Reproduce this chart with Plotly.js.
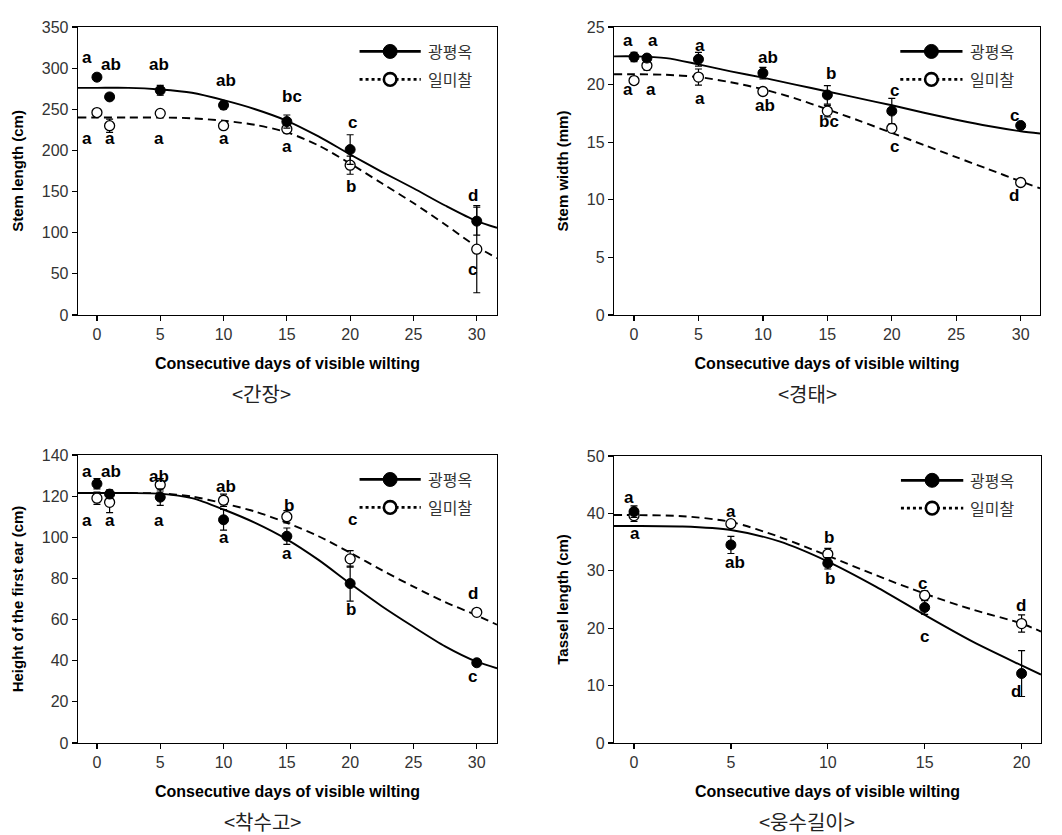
<!DOCTYPE html>
<html>
<head>
<meta charset="utf-8">
<script src="https://cdn.plot.ly/plotly-3.0.1.min.js"></script>
<style>
  html, body { margin: 0; padding: 0; background: #fff; }
  #chart { width: 1062px; height: 835px; }
</style>
</head>
<body>
<div id="chart"></div>
<script>
// ---------------- DATA ----------------
const seriesNames = ['광평옥', '일미찰'];
const xTitle = 'Consecutive days of visible wilting';

// x positions (days)
const days7 = [0, 1, 5, 10, 15, 20, 30];
const days5 = [0, 5, 10, 15, 20];

// Panel 1 : Stem length (cm)  <간장>
const p1Title = 'Stem length (cm)';
const p1Caption = '<간장>';
const p1KPO = [289, 265, 273, 255, 235, 201, 114];
const p1KPOErr = [3, 3, 6, 5, 8, 18, 17];
const p1IMC = [246, 230, 245, 230, 226, 182, 80];
const p1IMCErr = [3, 8, 3, 3, 5, 11, 53];
const p1CurveX = [-1.5, 0, 2.5, 5, 7.5, 10, 12.5, 15, 17.5, 20, 22.5, 25, 27.5, 30, 31.6];
const p1CurveKPO = [276, 276, 276, 274, 270, 261, 250, 236, 217, 195, 174, 154, 133, 114, 106];
const p1CurveIMC = [240, 240, 240, 240, 239, 236, 231, 222, 206, 184, 160, 136, 110, 83, 69];
const p1Letters = ['a', 'ab', 'ab', 'ab', 'bc', 'c', 'd', 'a', 'a', 'a', 'a', 'a', 'b', 'c'];
const p1LetterX = [-0.8, 1.1, 4.9, 10.2, 15.4, 20.2, 29.7, -0.8, 1.0, 4.9, 10.0, 15.0, 20.1, 29.7];
const p1LetterY = [313, 305, 305, 285, 265, 234, 145, 215, 215, 215, 215, 205, 156, 55];

// Panel 2 : Stem width (mm)  <경태>
const p2Title = 'Stem width (mm)';
const p2Caption = '<경태>';
const p2KPO = [22.4, 22.3, 22.2, 21.0, 19.1, 17.7, 16.45];
const p2KPOErr = [0.4, 0.3, 0.6, 0.5, 0.8, 1.1, 0.2];
const p2IMC = [20.35, 21.65, 20.65, 19.4, 17.7, 16.2, 11.5];
const p2IMCErr = [0.3, 0.4, 0.7, 0.3, 0.5, 0.3, 0.2];
const p2CurveX = [-1.55, 0, 2.5, 5, 7.5, 10, 12.5, 15, 17.5, 20, 22.5, 25, 27.5, 30, 31.5];
const p2CurveKPO = [22.45, 22.45, 22.3, 21.75, 21.15, 20.6, 20.0, 19.4, 18.8, 18.2, 17.55, 16.95, 16.4, 15.95, 15.75];
const p2CurveIMC = [20.9, 20.9, 20.85, 20.65, 20.2, 19.6, 18.8, 17.85, 16.85, 15.8, 14.75, 13.7, 12.65, 11.6, 11.0];
const p2Letters = ['a', 'a', 'a', 'ab', 'b', 'c', 'c', 'a', 'a', 'a', 'ab', 'bc', 'c', 'd'];
const p2LetterX = [-0.5, 1.45, 5.1, 10.4, 15.3, 20.2, 29.5, -0.5, 1.3, 5.1, 10.2, 15.1, 20.2, 29.5];
const p2LetterY = [23.8, 23.8, 23.35, 22.35, 20.95, 19.5, 17.35, 19.6, 19.6, 18.8, 18.15, 16.8, 14.6, 10.35];

// Panel 3 : Height of the first ear (cm)  <착수고>
const p3Title = 'Height of the first ear (cm)';
const p3Caption = '<착수고>';
const p3KPO = [126, 121, 119.5, 108.5, 100.5, 77.5, 39];
const p3KPOErr = [2.5, 2, 4, 5, 4, 8.5, 1];
const p3IMC = [119, 117, 125.5, 118, 110, 89.5, 63.5];
const p3IMCErr = [3, 5, 3, 3, 3, 4, 1];
const p3CurveX = [-1.5, 0, 2.5, 5, 7.5, 10, 12.5, 15, 17.5, 20, 22.5, 25, 27.5, 30, 31.6];
const p3CurveKPO = [121.5, 121.5, 121.5, 121.2, 119, 113.5, 107, 99, 89, 77.5, 66.5, 56.5, 47, 39.5, 36.3];
const p3CurveIMC = [121.5, 121.5, 121.5, 121.3, 119.8, 116.5, 112.5, 107, 100.5, 92.5, 84, 76, 68.5, 62, 57.5];
const p3Letters = ['a', 'ab', 'ab', 'ab', 'b', 'c', 'd', 'a', 'a', 'a', 'a', 'a', 'b', 'c'];
const p3LetterX = [-0.8, 1.1, 4.9, 10.2, 15.2, 20.2, 29.7, -0.8, 1.0, 4.9, 10.0, 15.0, 20.1, 29.7];
const p3LetterY = [132, 132, 129.5, 124.5, 115.5, 108.5, 72.5, 108, 108, 108, 100, 92, 65, 32.5];

// Panel 4 : Tassel length (cm)  <웅수길이>
const p4Title = 'Tassel length (cm)';
const p4Caption = '<웅수길이>';
const p4KPO = [40.3, 34.5, 31.3, 23.6, 12.1];
const p4KPOErr = [1, 1.5, 1, 1.2, 4];
const p4IMC = [39.6, 38.2, 32.9, 25.7, 20.8];
const p4IMCErr = [1, 0.5, 1, 0.8, 1.5];
const p4CurveX = [-1.05, 0, 2.5, 5, 7.5, 10, 12.5, 15, 17.5, 20, 21];
const p4CurveKPO = [37.8, 37.8, 37.7, 37.1, 35.1, 31.6, 27.2, 22.3, 17.6, 13.5, 11.9];
const p4CurveIMC = [39.7, 39.7, 39.5, 38.5, 35.9, 32.6, 29.2, 26.0, 23.2, 20.8, 19.4];
const p4Letters = ['a', 'a', 'b', 'c', 'd', 'a', 'ab', 'b', 'c', 'd'];
const p4LetterX = [-0.25, 5.0, 10.05, 14.9, 19.95, 0.05, 5.2, 10.1, 15.0, 19.7];
const p4LetterY = [42.8, 40.3, 35.8, 27.8, 24.0, 36.5, 31.4, 28.7, 18.6, 8.9];

// ---------------- BUILD ----------------
const FONT = 'Liberation Sans, Arial, sans-serif';
const KFONT = 'Noto Sans CJK KR, sans-serif';

const panels = [
  {xa: 'x',  ya: 'y',  days: days7, kpo: p1KPO, kpoE: p1KPOErr, imc: p1IMC, imcE: p1IMCErr,
   cx: p1CurveX, ck: p1CurveKPO, ci: p1CurveIMC, lt: p1Letters, lx: p1LetterX, ly: p1LetterY,
   title: p1Title, caption: p1Caption, xr: [-1.5, 31.6], yr: [0, 350], dy: 50,
   xd: [0.0734, 0.468], yd: [0.6228, 0.9677], cap: [0.2467, 0.5293]},
  {xa: 'x2', ya: 'y2', days: days7, kpo: p2KPO, kpoE: p2KPOErr, imc: p2IMC, imcE: p2IMCErr,
   cx: p2CurveX, ck: p2CurveKPO, ci: p2CurveIMC, lt: p2Letters, lx: p2LetterX, ly: p2LetterY,
   title: p2Title, caption: p2Caption, xr: [-1.55, 31.5], yr: [0, 25], dy: 5,
   xd: [0.5782, 0.9793], yd: [0.6228, 0.9677], cap: [0.760, 0.5293]},
  {xa: 'x3', ya: 'y3', days: days7, kpo: p3KPO, kpoE: p3KPOErr, imc: p3IMC, imcE: p3IMCErr,
   cx: p3CurveX, ck: p3CurveKPO, ci: p3CurveIMC, lt: p3Letters, lx: p3LetterX, ly: p3LetterY,
   title: p3Title, caption: p3Caption, xr: [-1.5, 31.6], yr: [0, 140], dy: 20,
   xd: [0.0734, 0.468], yd: [0.1102, 0.4551], cap: [0.2472, 0.016]},
  {xa: 'x4', ya: 'y4', days: days5, kpo: p4KPO, kpoE: p4KPOErr, imc: p4IMC, imcE: p4IMCErr,
   cx: p4CurveX, ck: p4CurveKPO, ci: p4CurveIMC, lt: p4Letters, lx: p4LetterX, ly: p4LetterY,
   title: p4Title, caption: p4Caption, xr: [-1.03, 21.0], yr: [0, 50], dy: 10,
   xd: [0.5782, 0.9802], yd: [0.1102, 0.4540], cap: [0.760, 0.016]}
];

const traces = [];
const shapes = [];
const annotations = [];
const layout = {
  width: 1062, height: 835,
  margin: {l: 0, r: 0, t: 0, b: 0},
  paper_bgcolor: '#ffffff', plot_bgcolor: '#ffffff',
  showlegend: false,
  font: {family: FONT, color: '#000'}
};

panels.forEach((p, i) => {
  const n = i === 0 ? '' : String(i + 1);
  // fitted curves
  traces.push({x: p.cx, y: p.ck, xaxis: p.xa, yaxis: p.ya, type: 'scatter', mode: 'lines',
    line: {color: '#000', width: 1.9, shape: 'spline', smoothing: 0.8}, hoverinfo: 'skip'});
  traces.push({x: p.cx, y: p.ci, xaxis: p.xa, yaxis: p.ya, type: 'scatter', mode: 'lines',
    line: {color: '#000', width: 1.9, dash: '8px,5px', shape: 'spline', smoothing: 0.8}, hoverinfo: 'skip'});
  // observed means with error bars
  traces.push({x: p.days, y: p.imc, xaxis: p.xa, yaxis: p.ya, type: 'scatter', mode: 'markers',
    name: seriesNames[1],
    marker: {symbol: 'circle', size: 10, color: '#fff', line: {color: '#000', width: 1.3}},
    error_y: {type: 'data', array: p.imcE, visible: true, color: '#000', thickness: 1.2, width: 3.5}});
  traces.push({x: p.days, y: p.kpo, xaxis: p.xa, yaxis: p.ya, type: 'scatter', mode: 'markers',
    name: seriesNames[0],
    marker: {symbol: 'circle', size: 10, color: '#000', line: {color: '#000', width: 1}},
    error_y: {type: 'data', array: p.kpoE, visible: true, color: '#000', thickness: 1.2, width: 3.5}});

  layout['xaxis' + n] = {
    domain: p.xd, range: p.xr, anchor: p.ya, tick0: 0, dtick: 5,
    showline: true, mirror: true, linecolor: '#000', linewidth: 1.3,
    ticks: 'outside', ticklen: 5, tickwidth: 1.2, tickcolor: '#000',
    showgrid: false, zeroline: false, automargin: false, fixedrange: true,
    tickfont: {family: FONT, size: 16, color: '#333'},
    title: {text: '<b>' + xTitle + '</b>', font: {family: FONT, size: 16, color: '#000'}, standoff: 15}
  };
  layout['yaxis' + n] = {
    domain: p.yd, range: p.yr, anchor: p.xa, tick0: 0, dtick: p.dy,
    showline: true, mirror: true, linecolor: '#000', linewidth: 1.3,
    ticks: 'outside', ticklen: 5, tickwidth: 1.2, tickcolor: '#000',
    showgrid: false, zeroline: false, automargin: false, fixedrange: true,
    tickfont: {family: FONT, size: 16, color: '#333'},
    title: {text: '<b>' + p.title + '</b>', font: {family: FONT, size: 15, color: '#000'}, standoff: 14}
  };

  // significance letters
  p.lt.forEach((t, k) => {
    annotations.push({xref: p.xa, yref: p.ya, x: p.lx[k], y: p.ly[k], text: '<b>' + t + '</b>',
      showarrow: false, xanchor: 'center', yanchor: 'middle',
      font: {family: FONT, size: 17, color: '#000'}});
  });

  // legend (drawn in axis-domain space)
  const xr = p.xa + ' domain', yr = p.ya + ' domain';
  const lx0 = 0.672, lx1 = 0.818, lcx = 0.745, ltx = 0.83, ly1 = 0.915, ly2 = 0.818;
  shapes.push({type: 'line', xref: xr, yref: yr, x0: lx0, x1: lx1, y0: ly1, y1: ly1,
    line: {color: '#000', width: 2.8}});
  shapes.push({type: 'circle', xref: xr, yref: yr, xsizemode: 'pixel', ysizemode: 'pixel',
    xanchor: lcx, yanchor: ly1, x0: -7, x1: 7, y0: -7, y1: 7,
    fillcolor: '#000', line: {color: '#000', width: 1}});
  shapes.push({type: 'line', xref: xr, yref: yr, x0: lx0, x1: lx1, y0: ly2, y1: ly2,
    line: {color: '#000', width: 2.8, dash: 'dot'}});
  shapes.push({type: 'circle', xref: xr, yref: yr, xsizemode: 'pixel', ysizemode: 'pixel',
    xanchor: lcx, yanchor: ly2, x0: -6.3, x1: 6.3, y0: -6.3, y1: 6.3,
    fillcolor: '#fff', line: {color: '#000', width: 2.6}});
  annotations.push({xref: xr, yref: yr, x: ltx, y: ly1, text: seriesNames[0], showarrow: false,
    xanchor: 'left', yanchor: 'middle', font: {family: KFONT, size: 16, color: '#333'}});
  annotations.push({xref: xr, yref: yr, x: ltx, y: ly2, text: seriesNames[1], showarrow: false,
    xanchor: 'left', yanchor: 'middle', font: {family: KFONT, size: 16, color: '#333'}});

  // caption under each panel
  annotations.push({xref: 'paper', yref: 'paper', x: p.cap[0], y: p.cap[1], text: p.caption.replace(/</g, '&lt;').replace(/>/g, '&gt;'),
    showarrow: false, xanchor: 'center', yanchor: 'middle',
    font: {family: KFONT, size: 20, color: '#222'}});
});

layout.shapes = shapes;
layout.annotations = annotations;

Plotly.newPlot('chart', traces, layout, {staticPlot: true, displayModeBar: false});
</script>
</body>
</html>
